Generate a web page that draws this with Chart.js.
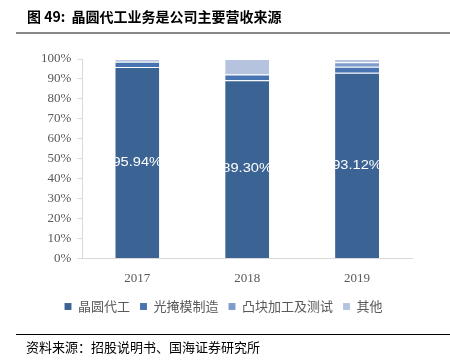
<!DOCTYPE html>
<html>
<head>
<meta charset="utf-8">
<script src="https://cdn.jsdelivr.net/npm/chart.js@4.4.1/dist/chart.umd.min.js"></script>
<style>
html,body{margin:0;padding:0;background:#fff;}
#wrap{position:relative;width:450px;height:362px;}
</style>
</head>
<body>
<div id="wrap"><canvas id="c" width="450" height="362"></canvas></div>
<script>
const categories = ['2017', '2018', '2019'];
const seriesNames = ['晶圆代工', '光掩模制造', '凸块加工及测试', '其他'];
const waferFoundry = [95.94, 89.30, 93.12];
const photomask = [2.70, 2.90, 3.00];
const bumpTesting = [0.40, 0.30, 2.20];
const others = [0.96, 7.50, 1.68];
const yTickValues = [0, 10, 20, 30, 40, 50, 60, 70, 80, 90, 100];

const colors = ['#3B6494', '#4874B1', '#7D9BCB', '#B5C3DF'];
const title = '图 49:  晶圆代工业务是公司主要营收来源';
const source = '资料来源：招股说明书、国海证券研究所';

const frame = {
  id: 'frame',
  afterDraw(chart) {
    const ctx = chart.ctx;
    ctx.save();
    ctx.fillStyle = '#000';
    ctx.textBaseline = 'middle';
    ctx.textAlign = 'left';
    ctx.font = 'bold 14px "Noto Sans CJK SC", sans-serif';
    ctx.fillText(title, 27, 17);
    ctx.strokeStyle = '#888';
    ctx.lineWidth = 2;
    ctx.beginPath(); ctx.moveTo(16, 33); ctx.lineTo(450, 33); ctx.stroke();
    ctx.strokeStyle = '#000';
    ctx.lineWidth = 1;
    ctx.beginPath(); ctx.moveTo(16, 334.5); ctx.lineTo(450, 334.5); ctx.stroke();
    ctx.font = '13px "Noto Sans CJK SC", sans-serif';
    ctx.fillStyle = '#000';
    ctx.fillText(source, 26, 347);
    ctx.restore();
  }
};

const labels = {
  id: 'barLabels',
  afterDatasetsDraw(chart) {
    const ctx = chart.ctx;
    const meta = chart.getDatasetMeta(0);
    meta.data.forEach((bar, i) => {
      const p = bar.getProps(['x', 'y', 'base', 'width'], true);
      const left = p.x - p.width / 2;
      ctx.save();
      ctx.beginPath();
      ctx.rect(left, p.y, p.width, p.base - p.y);
      ctx.clip();
      ctx.translate(p.x, (p.y + p.base) / 2);
      ctx.scale(1.22, 1);
      ctx.fillStyle = '#fff';
      ctx.font = '12px "Liberation Sans", Arial, sans-serif';
      ctx.textAlign = 'center';
      ctx.textBaseline = 'middle';
      ctx.fillText(waferFoundry[i].toFixed(2) + '%', 0, 0);
      ctx.restore();
    });
  }
};

const seriesData = [waferFoundry, photomask, bumpTesting, others];

new Chart(document.getElementById('c'), {
  type: 'bar',
  data: {
    labels: categories,
    datasets: seriesNames.map((n, i) => ({
      label: n,
      data: seriesData[i],
      backgroundColor: colors[i],
      borderColor: 'rgba(255,255,255,0.35)',
      borderWidth: {top: 1, bottom: 0, left: 0, right: 0},
      borderSkipped: false,
      barPercentage: 0.4,
      categoryPercentage: 1.0
    }))
  },
  options: {
    responsive: false,
    animation: false,
    layout: {padding: {top: 59, left: 35, right: 38, bottom: 39}},
    plugins: {
      legend: {
        position: 'bottom',
        labels: {
          boxWidth: 7, boxHeight: 7, padding: 10,
          color: '#595959',
          font: {family: '"Noto Sans CJK SC", sans-serif', size: 13}
        }
      },
      tooltip: {enabled: false}
    },
    scales: {
      x: {
        stacked: true,
        grid: {display: false},
        border: {color: '#d9d9d9'},
        ticks: {color: '#595959', font: {family: '"Liberation Serif", serif', size: 13}, padding: 4}
      },
      y: {
        stacked: true,
        min: 0, max: 100,
        afterBuildTicks(axis) { axis.ticks = yTickValues.map(v => ({value: v})); },
        grid: {drawOnChartArea: false, drawTicks: true, tickLength: 5, color: '#d9d9d9'},
        border: {color: '#d9d9d9'},
        ticks: {
          color: '#595959', padding: 6,
          font: {family: '"Liberation Serif", serif', size: 13},
          callback: v => v + '%'
        }
      }
    }
  },
  plugins: [frame, labels]
});
</script>
</body>
</html>
